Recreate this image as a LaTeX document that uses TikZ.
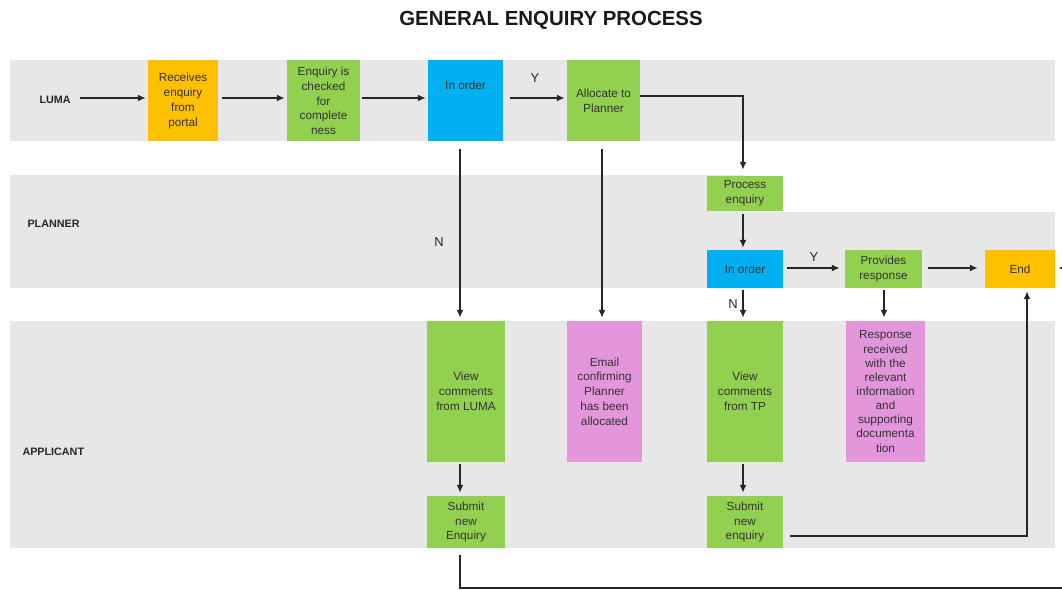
\documentclass[tikz,border=0pt]{standalone}
\usepackage{fontspec}
\setmainfont{Liberation Sans}
\usetikzlibrary{arrows.meta}
\definecolor{lanegray}{HTML}{E7E7E7}
\definecolor{orng}{HTML}{FFC000}
\definecolor{grn}{HTML}{92D050}
\definecolor{blu}{HTML}{00B0F0}
\definecolor{pnk}{HTML}{E396DC}
\definecolor{txt}{HTML}{333333}
\begin{document}
\begin{tikzpicture}[x=1bp,y=-1bp,
  box/.style={draw=none, inner sep=1bp, align=center, text=txt,
    font=\fontsize{11.8}{14.8}\selectfont},
  lanelbl/.style={font=\bfseries\fontsize{10.8}{12}\selectfont, text=black!85},
  yn/.style={font=\fontsize{13}{15}\selectfont, text=black!85},
  arr/.style={-{Latex[length=8bp,width=7bp]}, line width=1.8bp, draw=black!85}]
\useasboundingbox (0,0) rectangle (1062,590);
% lanes
\fill[lanegray] (10,60) rectangle (1055,141);
\fill[lanegray] (10,175) rectangle (745,288);
\fill[lanegray] (10,212) rectangle (1055,288);
\fill[lanegray] (10,321) rectangle (1055,548);
% title and lane labels
\node[font=\bfseries\fontsize{20.5}{24}\selectfont, text=black!90] (title) at (551,20.5) {GENERAL ENQUIRY PROCESS};
\node[lanelbl, anchor=west] (luma) at (36,100) {LUMA};
\node[lanelbl, anchor=west] (planner) at (24,224) {PLANNER};
\node[lanelbl, anchor=west] (applicant) at (19,452) {APPLICANT};
% LUMA lane boxes
\node[box, fill=orng, minimum width=70bp, minimum height=81bp] (recv) at (183,101) {Receives\\enquiry\\from\\portal};
\node[box, fill=grn, minimum width=73bp, minimum height=81bp] (check) at (323.5,101) {Enquiry is\\checked\\for\\complete\\ness};
\node[box, fill=blu, minimum width=75bp, minimum height=81bp,
  label={[box, anchor=center, yshift=15.5bp]center:In order}] (ord1) at (465.5,101) {};
\node[box, fill=grn, minimum width=73bp, minimum height=81bp] (alloc) at (603.5,101) {Allocate to\\Planner};
% PLANNER lane boxes
\node[box, fill=grn, minimum width=76bp, minimum height=35bp] (proc) at (745,193.5) {Process\\enquiry};
\node[box, fill=blu, minimum width=76bp, minimum height=38bp] (ord2) at (745,269) {In order};
\node[box, fill=grn, minimum width=77bp, minimum height=38bp] (resp) at (883.5,269) {Provides\\response};
\node[box, fill=orng, minimum width=70bp, minimum height=38bp] (endn) at (1020,269) {End};
% APPLICANT lane boxes
\node[box, fill=grn, minimum width=78bp, minimum height=141bp] (vcl) at (466,391.5) {View\\comments\\from LUMA};
\node[box, fill=pnk, minimum width=75bp, minimum height=141bp] (email) at (604.5,391.5) {Email\\confirming\\Planner\\has been\\allocated};
\node[box, fill=grn, minimum width=76bp, minimum height=141bp] (vtp) at (745,391.5) {View\\comments\\from TP};
\node[box, fill=pnk, minimum width=79bp, minimum height=141bp, font=\fontsize{11.8}{14.2}\selectfont] (rrec) at (885.5,391.5) {Response\\received\\with the\\relevant\\information\\and\\supporting\\documenta\\tion};
\node[box, fill=grn, minimum width=78bp, minimum height=52bp] (sub1) at (466,522) {Submit\\new\\Enquiry};
\node[box, fill=grn, minimum width=76bp, minimum height=52bp] (sub2) at (745,522) {Submit\\new\\enquiry};
% coordinate for the outer return loop
\coordinate (lowr) at (1070,588);
% connectors
\draw[arr, shorten <=6bp, shorten >=2bp] ([yshift=3bp]luma.east |- recv.west) -- ([yshift=3bp]recv.west);
\draw[arr, shorten <=4bp, shorten >=2bp] ([yshift=3bp]recv.east) -- ([yshift=3bp]check.west);
\draw[arr, shorten <=2bp, shorten >=2bp] ([yshift=3bp]check.east) -- ([yshift=3bp]ord1.west);
\draw[arr, shorten <=7bp, shorten >=2bp] ([yshift=3bp]ord1.east) -- ([yshift=3bp]alloc.west) node[yn, midway, above=11bp] (y1) {Y};
\draw[arr, shorten >=6bp] ([yshift=5bp]alloc.east) -| ([xshift=-2bp]proc.north);
\draw[arr, shorten <=3bp, shorten >=2bp] ([xshift=-2bp]proc.south) -- ([xshift=-2bp]ord2.north);
\draw[arr, shorten <=4bp, shorten >=5bp] ([yshift=1bp]ord2.east) -- ([yshift=1bp]resp.west) node[yn, pos=0.5, above=2bp] (y2) {Y};
\draw[arr, shorten <=6bp, shorten >=7bp] ([yshift=1bp]resp.east) -- ([yshift=1bp]endn.west);
\draw[arr, shorten <=7bp, shorten >=3bp] ([xshift=-5.5bp]ord1.south) -- ([xshift=-5.5bp]ord1.south |- vcl.north) node[yn, pos=0.56, left=12bp] (n1) {N};
\draw[arr, shorten <=7bp, shorten >=3bp] ([xshift=-1.5bp]alloc.south) -- ([xshift=-1.5bp]alloc.south |- email.north);
\draw[arr, shorten <=2bp, shorten >=3bp] ([xshift=-2bp]ord2.south) -- ([xshift=-2bp]ord2.south |- vtp.north) node[yn, midway, left=1bp] (n2) {N};
\draw[arr, shorten <=2bp, shorten >=3bp] ([xshift=0.5bp]resp.south) -- ([xshift=0.5bp]resp.south |- rrec.north);
\draw[arr, shorten <=2bp, shorten >=3bp] ([xshift=-6bp]vcl.south) -- ([xshift=-6bp]sub1.north);
\draw[arr, shorten <=2bp, shorten >=3bp] ([xshift=-2bp]vtp.south) -- ([xshift=-2bp]sub2.north);
\draw[arr, shorten <=7bp, shorten >=3bp] ([yshift=-14bp]sub2.east) -| ([xshift=7bp]endn.south);
\draw[arr, shorten <=7bp, shorten >=3bp] ([xshift=-6bp]sub1.south) |- (lowr) |- ([yshift=1bp]endn.east);
\end{tikzpicture}
\end{document}
